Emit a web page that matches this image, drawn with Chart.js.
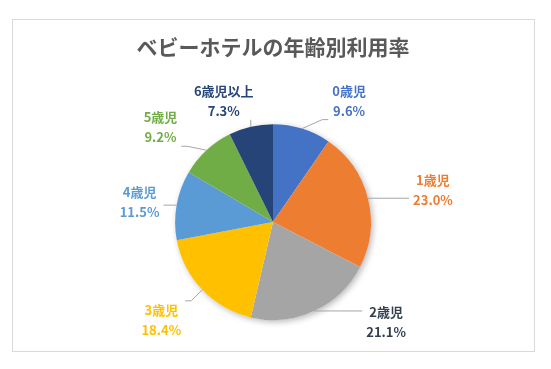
<!DOCTYPE html>
<html lang="ja">
<head>
<meta charset="utf-8">
<script src="https://cdn.jsdelivr.net/npm/chart.js@4"></script>
<style>
  html, body { margin: 0; padding: 0; background: #fff; }
  #frame {
    position: absolute; left: 12px; top: 19px;
    width: 521px; height: 331px;
    border: 1px solid #d9d9d9;
  }
</style>
</head>
<body>
<div id="frame"><canvas id="grafico"></canvas></div>
<script>
// データ
const categorias = ['0歳児', '1歳児', '2歳児', '3歳児', '4歳児', '5歳児', '6歳児以上'];
const porcentajes = [9.6, 23.0, 21.1, 18.4, 11.5, 9.2, 7.3];

// 見た目
const coloresSector = ['#4472C4', '#ED7D31', '#A5A5A5', '#FFC000', '#5B9BD5', '#70AD47', '#264478'];
const coloresEtiqueta = ['#4472C4', '#ED7D31', '#333F50', '#FFC000', '#5B9BD5', '#70AD47', '#264478'];
// desplazamiento de cada etiqueta respecto al borde del sector (px)
const desplazEtiqueta = [[47, -28], [65, -8], [72, 11], [-41, 30], [-37, -3], [-46, -23], [-27, -26]];

const fuente = '"Noto Sans CJK JP", "Noto Sans", sans-serif';

const etiquetasExternas = {
    id: 'etiquetasExternas',
    beforeDatasetsDraw(chart) {
        // sombra suave bajo el pastel
        const arco = chart.getDatasetMeta(0).data[0];
        if (!arco) return;
        const ctx = chart.ctx;
        ctx.save();
        ctx.shadowColor = 'rgba(0,0,0,0.28)';
        ctx.shadowBlur = 6;
        ctx.shadowOffsetX = 2;
        ctx.shadowOffsetY = 2;
        ctx.fillStyle = '#ffffff';
        ctx.beginPath();
        ctx.arc(arco.x, arco.y, arco.outerRadius, 0, Math.PI * 2);
        ctx.fill();
        ctx.restore();
    },
    afterDatasetsDraw(chart) {
        const ctx = chart.ctx;
        const meta = chart.getDatasetMeta(0);
        meta.data.forEach((arco, i) => {
            const { x, y, startAngle, endAngle, outerRadius } = arco.getProps(
                ['x', 'y', 'startAngle', 'endAngle', 'outerRadius'], true);
            const medio = (startAngle + endAngle) / 2;
            const ex = x + Math.cos(medio) * outerRadius;
            const ey = y + Math.sin(medio) * outerRadius;
            const lx = ex + desplazEtiqueta[i][0];
            const ly = ey + desplazEtiqueta[i][1];

            const nombre = categorias[i];
            const valor = porcentajes[i].toFixed(1) + '%';

            ctx.save();
            ctx.font = 'bold 13px ' + fuente;
            const ancho = Math.max(ctx.measureText(nombre).width, ctx.measureText(valor).width);

            // caja de la etiqueta y punto más cercano
            const izq = lx - ancho / 2 - 4, der = lx + ancho / 2 + 4;
            const arr = ly - 19, aba = ly + 19;
            const px = Math.min(Math.max(ex, izq), der);
            const py = Math.min(Math.max(ey, arr), aba);

            ctx.strokeStyle = '#a6a6a6';
            ctx.lineWidth = 1;
            ctx.beginPath();
            ctx.moveTo(ex, ey);
            if ((px === izq || px === der) && (py === arr || py === aba)) {
                const codo = px + (ex < px ? -6 : 6);
                ctx.lineTo(codo, py);
            }
            ctx.lineTo(px, py);
            ctx.stroke();

            ctx.fillStyle = coloresEtiqueta[i];
            ctx.textAlign = 'center';
            ctx.textBaseline = 'middle';
            ctx.fillText(nombre, lx, ly - 10);
            ctx.fillText(valor, lx, ly + 10);
            ctx.restore();
        });
    }
};

new Chart(document.getElementById('grafico').getContext('2d'), {
    type: 'pie',
    data: {
        labels: categorias,
        datasets: [{
            data: porcentajes,
            backgroundColor: coloresSector,
            borderWidth: 0,
        }],
    },
    options: {
        responsive: true,
        maintainAspectRatio: false,
        animation: false,
        layout: { padding: { left: 0, right: 1, bottom: 31 } },
        plugins: {
            legend: { display: false },
            tooltip: { enabled: false },
            title: {
                display: true,
                text: 'ベビーホテルの年齢別利用率',
                color: '#595959',
                font: { family: fuente, size: 21, weight: 'bold', lineHeight: 1.2 },
                padding: { top: 14, bottom: 65 },
            },
        },
    },
    plugins: [etiquetasExternas],
});
</script>
</body>
</html>
